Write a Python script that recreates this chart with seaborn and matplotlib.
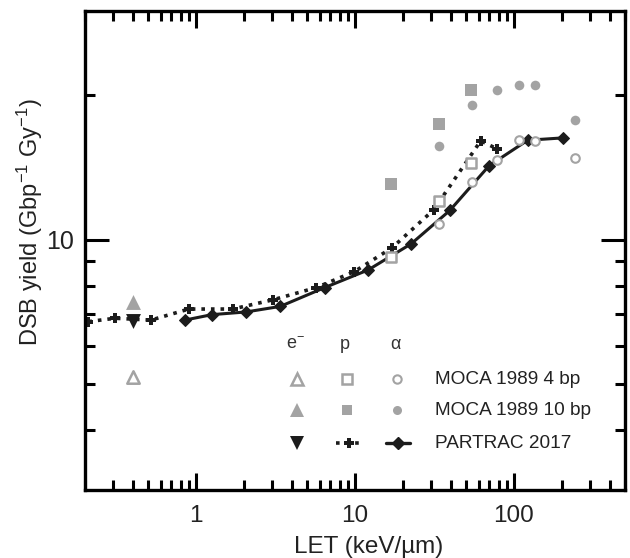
import numpy as np
import pandas as pd
import matplotlib
matplotlib.use("Agg")
import matplotlib.pyplot as plt
import matplotlib.ticker as mticker
import seaborn as sns

# data (LET in keV/um, DSB yield in Gbp^-1 Gy^-1)
e_let = [0.4]
e_moca4 = [5.17]
e_moca10 = [7.39]
e_partrac = [6.77]

p_let_moca = [16.8, 33.8, 53.5]
p_moca4 = [9.19, 12.05, 14.43]
p_moca10 = [13.05, 17.4, 20.5]

a_let_moca = [33.8, 54.5, 77.7, 107, 136, 244]
a_moca4 = [10.78, 13.17, 14.65, 16.12, 16.07, 14.81]
a_moca10 = [15.67, 19.12, 20.5, 20.97, 20.97, 17.8]

p_let_partrac = [0.21, 0.31, 0.52, 0.90, 1.70, 3.07, 5.72, 9.9, 17.1, 31.3, 61.8, 78.8]
p_partrac = [6.74, 6.85, 6.79, 7.16, 7.16, 7.49, 7.94, 8.57, 9.61, 11.54, 16.07, 15.45]

a_let_partrac = [0.85, 1.26, 2.06, 3.38, 6.46, 12.1, 22.6, 39.5, 69.8, 122, 203]
a_partrac = [6.79, 6.97, 7.06, 7.25, 7.94, 8.64, 9.80, 11.5, 14.26, 16.12, 16.3]

legend_rows = ["MOCA 1989 4 bp", "MOCA 1989 10 bp", "PARTRAC 2017"]
legend_cols = ["e$^{-}$", "p", "\u03b1"]

sns.set_theme(style="ticks")
plt.rcParams["font.family"] = ["Liberation Sans", "DejaVu Sans"]
plt.rcParams["mathtext.default"] = "regular"

grey = "#a3a3a3"
dark = "#1c1c1c"

fig = plt.figure(figsize=(6.3, 5.58), dpi=100)
ax = fig.add_axes([85 / 630, 1 - 490 / 558, 540 / 630, 479 / 558])
ax.set_xscale("log")
ax.set_yscale("log")

# PARTRAC lines
sns.lineplot(x=p_let_partrac, y=p_partrac, ax=ax, sort=False, color=dark,
             linestyle=":", linewidth=2.6, marker="P", markersize=7,
             markeredgewidth=0, markerfacecolor=dark)
sns.lineplot(x=a_let_partrac, y=a_partrac, ax=ax, sort=False, color=dark,
             linewidth=2.2, marker="D", markersize=6.5,
             markeredgecolor=dark, markerfacecolor=dark)

# MOCA points
kw_open = dict(facecolor="white", edgecolor=grey, linewidth=1.8, zorder=4)
kw_fill = dict(color=grey, linewidth=0, zorder=4)
sns.scatterplot(x=e_let, y=e_moca4, ax=ax, marker="^", s=80, **kw_open)
sns.scatterplot(x=e_let, y=e_moca10, ax=ax, marker="^", s=115, **kw_fill)
sns.scatterplot(x=e_let, y=e_partrac, ax=ax, marker="v", s=115, color=dark,
                linewidth=0, zorder=5)
sns.scatterplot(x=p_let_moca, y=p_moca4, ax=ax, marker="s", s=55, **kw_open)
sns.scatterplot(x=p_let_moca, y=p_moca10, ax=ax, marker="s", s=75, **kw_fill)
sns.scatterplot(x=a_let_moca, y=a_moca4, ax=ax, marker="o", s=38, linewidth=1.5,
                facecolor="white", edgecolor=grey, zorder=4)
sns.scatterplot(x=a_let_moca, y=a_moca10, ax=ax, marker="o", s=48, **kw_fill)

ax.set_xlim(0.2, 500)
ax.set_ylim(3, 30)

ax.xaxis.set_major_locator(mticker.FixedLocator([1, 10, 100]))
ax.xaxis.set_minor_locator(mticker.LogLocator(base=10, subs=np.arange(2, 10), numticks=20))
ax.xaxis.set_major_formatter(mticker.FuncFormatter(lambda v, p: f"{v:g}"))
ax.xaxis.set_minor_formatter(mticker.NullFormatter())
ax.yaxis.set_major_locator(mticker.FixedLocator([10]))
ax.yaxis.set_minor_locator(mticker.FixedLocator([4, 5, 6, 7, 8, 9, 20]))
ax.yaxis.set_major_formatter(mticker.FuncFormatter(lambda v, p: f"{v:g}"))
ax.yaxis.set_minor_formatter(mticker.NullFormatter())

ax.tick_params(which="both", direction="in", top=True, right=True, width=2.2,
               colors="black", labelsize=18, labelcolor="#222222")
ax.tick_params(axis="x", which="major", length=12, pad=11, labelsize=17.5)
ax.tick_params(axis="y", which="major", length=17, pad=8)
ax.tick_params(which="minor", length=7.5)
for s in ax.spines.values():
    s.set_linewidth(2.4)
    s.set_color("black")

ax.set_xlabel("LET (keV/\u00b5m)", fontsize=17.5, color="#222222")
ax.xaxis.set_label_coords(0.526, -0.095)
ax.set_ylabel("DSB yield (Gbp$^{-1}$ Gy$^{-1}$)", fontsize=17, color="#222222")
ax.yaxis.set_label_coords(-0.074, 0.56)

# table-style legend in axes coordinates
tr = ax.transAxes
col_x = [0.392, 0.485, 0.577]
row_y = [0.231, 0.167, 0.0975]
for cx, t in zip(col_x, legend_cols):
    ax.text(cx - 0.003, 0.303, t, transform=tr, ha="center", va="center",
            fontsize=13, color="#333333")
ax.plot([col_x[0]], [row_y[0]], transform=tr, marker="^", ms=8.5, mfc="white",
        mec=grey, mew=1.8, ls="none", clip_on=False)
ax.plot([col_x[0]], [row_y[1]], transform=tr, marker="^", ms=10.5, color=grey,
        mew=0, ls="none", clip_on=False)
ax.plot([col_x[0]], [row_y[2]], transform=tr, marker="v", ms=10.5, color=dark,
        mew=0, ls="none", clip_on=False)
ax.plot([col_x[1]], [row_y[0]], transform=tr, marker="s", ms=7, mfc="white",
        mec=grey, mew=1.8, ls="none", clip_on=False)
ax.plot([col_x[1]], [row_y[1]], transform=tr, marker="s", ms=7.5, color=grey,
        mew=0, ls="none", clip_on=False)
ax.plot([col_x[1] - 0.02, col_x[1] + 0.026], [row_y[2]] * 2, transform=tr,
        ls=":", lw=2.6, color=dark, clip_on=False)
ax.plot([col_x[1] + 0.003], [row_y[2]], transform=tr, marker="P", ms=7,
        color=dark, mew=0, clip_on=False)
ax.plot([col_x[2]], [row_y[0]], transform=tr, marker="o", ms=6, mfc="white",
        mec=grey, mew=1.5, ls="none", clip_on=False)
ax.plot([col_x[2]], [row_y[1]], transform=tr, marker="o", ms=6.5, color=grey,
        mew=0, ls="none", clip_on=False)
ax.plot([col_x[2] - 0.02, col_x[2] + 0.025], [row_y[2]] * 2, transform=tr,
        ls="-", lw=2.4, color=dark, clip_on=False)
ax.plot([col_x[2] + 0.003], [row_y[2]], transform=tr, marker="D", ms=6.5,
        color=dark, clip_on=False)
for ry, t in zip(row_y, legend_rows):
    ax.text(0.648, ry, t, transform=tr, ha="left", va="center", fontsize=13.7,
            color="#222222")

fig.savefig("out.png", dpi=100)
